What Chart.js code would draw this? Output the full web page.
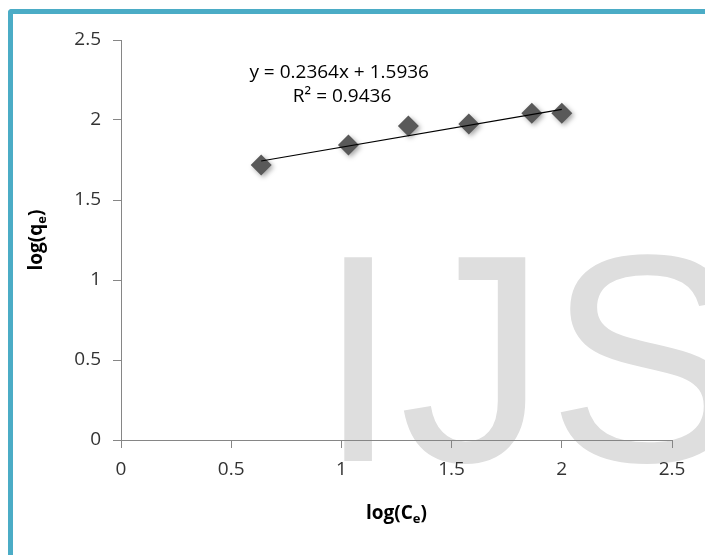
<!DOCTYPE html>
<html><head><meta charset="utf-8">
<script src="https://cdn.jsdelivr.net/npm/chart.js@4.4.0/dist/chart.umd.min.js"></script>
<style>
html,body{margin:0;padding:0;background:#fff;overflow:hidden;}
#wrap{position:relative;width:705px;height:555px;overflow:hidden;}
#frame{position:absolute;left:8px;top:9px;width:900px;height:900px;border-left:5px solid #4BACC6;border-top:5px solid #4BACC6;border-top-left-radius:4px;box-sizing:border-box;}
canvas{position:absolute;left:0;top:0;}
</style></head><body>
<div id="wrap"><div id="frame"></div><canvas id="c" width="705" height="555"></canvas></div>
<script>
// ---- data ----
const logCe = [0.636, 1.032, 1.304, 1.578, 1.864, 2.000];
const logQe = [1.719, 1.844, 1.962, 1.975, 2.042, 2.042];
const trendSlope = 0.2364;
const trendIntercept = 1.5936;
const xTicks = [0, 0.5, 1, 1.5, 2, 2.5];
const yTicks = [0, 0.5, 1, 1.5, 2, 2.5];
const equationText = 'y = 0.2364x + 1.5936';
const r2Text = 'R\u00B2 = 0.9436';
const xTitle = ['log(C', 'e', ')'];
const yTitle = ['log(q', 'e', ')'];
const watermark = 'IJS';

const FONT = '"Open Sans", "Noto Sans", sans-serif';
const points = logCe.map((x, i) => ({x: x, y: logQe[i]}));
const xMin = Math.min(...logCe), xMax = Math.max(...logCe);
const trend = [xMin, xMax].map(x => ({x: x, y: trendSlope * x + trendIntercept}));

const deco = {
  id: 'deco',
  beforeDraw(chart) {
    const ctx = chart.ctx;
    ctx.save();
    ctx.font = '296px "Liberation Sans", Arial, sans-serif';
    ctx.fillStyle = '#dedede';
    ctx.textBaseline = 'alphabetic';
    ctx.textAlign = 'left';
    ctx.fillText(watermark, 317, 461);
    ctx.restore();
  },
  beforeDatasetDraw(chart, args) {
    if (args.index === 1) {
      const ctx = chart.ctx;
      ctx.save();
      ctx.shadowColor = 'rgba(0,0,0,0.35)';
      ctx.shadowBlur = 5;
      ctx.shadowOffsetX = 2;
      ctx.shadowOffsetY = 2;
    }
  },
  afterDatasetDraw(chart, args) {
    if (args.index === 1) chart.ctx.restore();
  },
  afterDraw(chart) {
    const ctx = chart.ctx;
    const xs = chart.scales.x, ys = chart.scales.y;
    ctx.save();
    ctx.fillStyle = '#000';
    // equation labels
    ctx.font = '19px ' + FONT;
    ctx.textAlign = 'center';
    ctx.textBaseline = 'middle';
    ctx.fillText(equationText, xs.getPixelForValue(0.99), ys.getPixelForValue(2.294));
    ctx.fillText(r2Text, xs.getPixelForValue(1.003), ys.getPixelForValue(2.144));
    // axis titles with subscripts
    function drawSub(parts, cx, baseY) {
      const main = 'bold 19px ' + FONT, sub = 'bold 13px ' + FONT;
      ctx.font = main; const w0 = ctx.measureText(parts[0]).width;
      ctx.font = sub; const w1 = ctx.measureText(parts[1]).width;
      ctx.font = main; const w2 = ctx.measureText(parts[2]).width;
      let x = cx - (w0 + w1 + w2) / 2;
      ctx.textAlign = 'left';
      ctx.textBaseline = 'alphabetic';
      ctx.font = main; ctx.fillText(parts[0], x, baseY); x += w0;
      ctx.font = sub; ctx.fillText(parts[1], x, baseY + 4); x += w1;
      ctx.font = main; ctx.fillText(parts[2], x, baseY);
    }
    const cx = (chart.chartArea.left + chart.chartArea.right) / 2;
    drawSub(xTitle, cx, 519);
    ctx.save();
    ctx.translate(42, (chart.chartArea.top + chart.chartArea.bottom) / 2);
    ctx.rotate(-Math.PI / 2);
    drawSub(yTitle, 0, 0);
    ctx.restore();
    ctx.restore();
  }
};

new Chart(document.getElementById('c'), {
  type: 'scatter',
  data: {
    datasets: [
      {
        type: 'line',
        data: trend,
        borderColor: '#000',
        borderWidth: 1.2,
        pointRadius: 0,
        showLine: true,
        fill: false,
        order: 0
      },
      {
        data: points,
        pointStyle: 'rectRot',
        pointRadius: 10.5,
        pointHoverRadius: 10.5,
        backgroundColor: '#595959',
        borderColor: '#595959',
        borderWidth: 0,
        order: 1
      }
    ]
  },
  options: {
    responsive: false,
    animation: false,
    devicePixelRatio: 1,
    layout: {padding: {left: 0, right: 33, top: 40, bottom: 0}},
    plugins: {legend: {display: false}, tooltip: {enabled: false}},
    scales: {
      x: {
        type: 'linear', min: 0, max: 2.5,
        afterBuildTicks: s => { s.ticks = xTicks.map(v => ({value: v})); },
        afterFit: s => { s.height = 115; },
        grid: {drawOnChartArea: false, drawTicks: true, tickLength: 8, color: '#868686'},
        border: {color: '#868686', width: 1},
        ticks: {font: {family: FONT, size: 19}, color: '#333', padding: 10, maxRotation: 0,
          callback: v => String(v)}
      },
      y: {
        type: 'linear', min: 0, max: 2.5,
        afterBuildTicks: s => { s.ticks = yTicks.map(v => ({value: v})); },
        afterFit: s => { s.width = 121; },
        grid: {drawOnChartArea: false, drawTicks: true, tickLength: 8, color: '#868686'},
        border: {color: '#868686', width: 1},
        ticks: {font: {family: FONT, size: 19}, color: '#333', padding: 12,
          callback: v => String(v)}
      }
    }
  },
  plugins: [deco]
});
</script>
</body></html>
